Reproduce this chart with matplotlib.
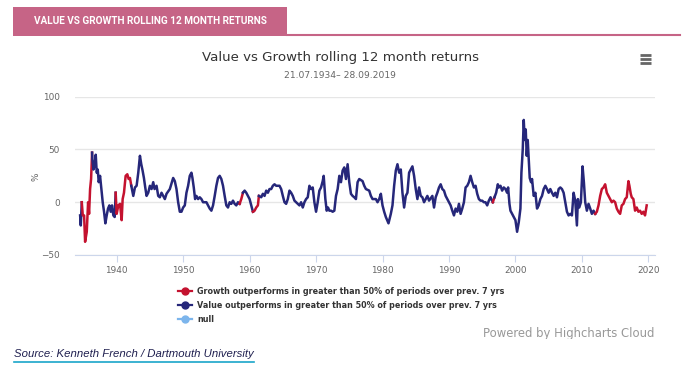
import matplotlib
matplotlib.use("agg")
import matplotlib.pyplot as plt
from matplotlib.lines import Line2D
from matplotlib.patches import Rectangle

# rolling 12 month return of value minus growth (%)
years = [1934.5, 1934.6, 1934.75, 1934.9, 1935.1, 1935.25, 1935.5, 1935.7, 1935.85, 1936.0,
         1936.15, 1936.3, 1936.35, 1936.5, 1936.65, 1936.85, 1937.0, 1937.15, 1937.3, 1937.5,
         1937.7, 1937.9, 1938.1, 1938.3, 1938.5, 1938.7, 1938.9, 1939.1, 1939.3, 1939.5,
         1939.7, 1939.85, 1940.0, 1940.25, 1940.5, 1940.75, 1940.9, 1941.1, 1941.35, 1941.6,
         1941.8, 1942.0, 1942.2, 1942.5, 1942.75, 1943.0, 1943.25, 1943.5, 1943.7, 1943.9,
         1944.1, 1944.3, 1944.5, 1944.75, 1945.0, 1945.25, 1945.5, 1945.7, 1946.0, 1946.25,
         1946.5, 1946.75, 1947.0, 1947.25, 1947.5, 1948.0, 1948.5, 1948.75, 1949.0, 1949.25,
         1949.5, 1949.75, 1950.0, 1950.25, 1950.5, 1950.75, 1951.0, 1951.25, 1951.4, 1951.6,
         1951.8, 1952.0, 1952.25, 1952.5, 1952.75, 1953.0, 1953.5, 1954.0, 1954.25, 1954.5,
         1954.75, 1955.0, 1955.25, 1955.5, 1955.75, 1956.0, 1956.25, 1956.5, 1956.75, 1957.0,
         1957.25, 1957.5, 1957.75, 1958.0, 1958.25, 1958.5, 1958.75, 1959.0, 1959.25, 1959.5,
         1959.75, 1960.0, 1960.25, 1960.5, 1960.75, 1961.0, 1961.25, 1961.4, 1961.75, 1962.0,
         1962.25, 1962.5, 1962.75, 1963.0, 1963.25, 1963.5, 1963.75, 1964.0, 1964.25, 1964.5,
         1964.75, 1965.0, 1965.25, 1965.5, 1965.75, 1966.0, 1966.25, 1966.5, 1966.75, 1967.0,
         1967.25, 1967.5, 1967.75, 1968.0, 1968.25, 1968.5, 1968.75, 1969.0, 1969.25, 1969.5,
         1969.75, 1970.0, 1970.25, 1970.5, 1970.75, 1971.0, 1971.15, 1971.4, 1971.6, 1971.8,
         1972.0, 1972.25, 1972.5, 1972.75, 1973.0, 1973.25, 1973.5, 1973.75, 1974.0, 1974.25,
         1974.5, 1974.75, 1975.0, 1975.25, 1975.5, 1975.75, 1976.0, 1976.25, 1976.5, 1977.0,
         1977.25, 1977.5, 1978.0, 1978.25, 1978.5, 1979.0, 1979.25, 1979.5, 1979.75, 1980.0,
         1980.25, 1980.5, 1980.9, 1981.25, 1981.5, 1981.75, 1982.0, 1982.25, 1982.5, 1982.75,
         1983.0, 1983.25, 1983.5, 1983.75, 1984.0, 1984.25, 1984.5, 1984.75, 1985.0, 1985.25,
         1985.5, 1985.75, 1986.0, 1986.25, 1986.5, 1986.75, 1987.0, 1987.5, 1987.75, 1988.0,
         1988.25, 1988.5, 1988.75, 1989.0, 1989.25, 1989.5, 1989.75, 1990.0, 1990.25, 1990.5,
         1990.75, 1991.0, 1991.25, 1991.5, 1991.75, 1992.0, 1992.25, 1992.5, 1992.75, 1993.0,
         1993.25, 1993.5, 1993.75, 1994.0, 1994.25, 1994.5, 1994.75, 1995.0, 1995.25, 1995.5,
         1995.75, 1996.0, 1996.25, 1996.6, 1996.85, 1997.1, 1997.35, 1997.5, 1997.75, 1998.0,
         1998.25, 1998.5, 1998.75, 1998.9, 1999.1, 1999.25, 1999.5, 1999.75, 2000.0, 2000.25,
         2000.5, 2000.75, 2000.9, 2001.1, 2001.25, 2001.4, 2001.55, 2001.7, 2001.85, 2002.0,
         2002.15, 2002.35, 2002.5, 2002.75, 2003.0, 2003.25, 2003.5, 2003.75, 2004.0, 2004.25,
         2004.5, 2004.75, 2005.0, 2005.25, 2005.5, 2005.75, 2006.0, 2006.25, 2006.5, 2006.75,
         2007.0, 2007.25, 2007.5, 2007.75, 2008.0, 2008.25, 2008.5, 2008.75, 2009.0, 2009.25,
         2009.4, 2009.6, 2009.85, 2010.1, 2010.3, 2010.5, 2010.75, 2011.0, 2011.25, 2011.5,
         2011.75, 2012.0, 2012.25, 2012.5, 2012.75, 2013.0, 2013.25, 2013.5, 2013.75, 2014.0,
         2014.25, 2014.5, 2014.75, 2015.0, 2015.25, 2015.5, 2015.75, 2016.0, 2016.25, 2016.5,
         2016.75, 2017.0, 2017.15, 2017.35, 2017.5, 2017.75, 2018.0, 2018.25, 2018.5, 2018.75,
         2019.0, 2019.25, 2019.5, 2019.75]
returns = [-12.5, -22, 0, -12.5, -12.5, -37.5, -28, 0, -11, 12.5,
           22, 47, 40.6, 31, 34, 45, 28, 31, 19, 25,
           12.5, 0, -9, -20, -12.5, -6, -3, -9, -3, -12.5,
           -14, 9, -11, -3, -1.5, -17, 3, 9, 25, 26.5,
           22, 23, 15.6, 6, 14, 15.6, 28, 44, 36, 30,
           23, 14, 6, 9, 15.6, 12.5, 19, 12.5, 15.6, 6,
           4.7, 9, 6, 3, 8, 12.5, 23, 20, 12.5, 0,
           -9, -9, -5, -3, 9, 15.6, 25, 28, 23, 14,
           3, 6, 3, 4.7, 3, 0, 0, -6, -8, -3,
           6, 15.6, 23, 25, 22, 15.6, 6, -3, -5, 0,
           -1.5, 1.5, -1.5, -3, 0, -1.5, 3, 9, 11, 9,
           6, 3, -3, -9, -8, -5, -3, 6, 4.7, 8,
           6, 11, 9, 12.5, 12.5, 15.6, 17, 15.6, 15.6, 15.6,
           12.5, 6, 0, -1.5, 3, 11, 9, 6, 1.5, 0,
           -1.5, -3, 0, -5, 0, 3, 4.7, 15.6, 12.5, 14,
           0, -9, 0, 11, 14, 20, 25, 3, -8, -5,
           -8, -8, -9, -8, 6, 12.5, 25, 19, 30, 33,
           22, 36, 19, 8, 6, 4.7, 3, 19, 22, 20,
           15.6, 12.5, 11, 6, 3, 3, 0, 3, 8, -3,
           -9, -14, -20, -11, -3, 15.6, 30, 36, 28, 31,
           9, -5, 6, 9, 28, 31, 34, 25, 12.5, 3,
           14, 6, 4.7, 0, 3, 6, 1.5, 6, -5, 4.7,
           9, 14, 17, 12.5, 11, 6, 3, 0, -3, -8,
           -12.5, -6, -9, -1.5, -11, -6, 0, 14, 15.6, 19,
           25, 19, 14, 15.6, 8, 3, 1.5, 1.5, 0, 0,
           -3, 1.5, 4.7, 0, 4.7, 9, 17, 14, 15.6, 11,
           14, 12.5, 9, 14, -1.5, -8, -11, -14, -17, -28,
           -19, -6, 28, 50, 78, 59, 69, 44, 59, 41,
           23, 19, 22, 6, 9, -6, -3, 3, 6, 12.5,
           15.6, 12.5, 9, 12.5, 9, 6, 9, 4.7, 12.5, 14,
           12.5, 9, 0, -9, -12.5, -11, -12.5, 9, 1.5, -22,
           3, -5, 0, 34, 19, 0, -8, -1.5, -6, -11,
           -8, -11, -9, -3, 6, 12.5, 14, 17, 9, 6,
           3, 0, 1.5, 0, -6, -9, -11, -3, -1.5, 3,
           4.7, 20, 15.6, 8, 4.7, 3, -8, -5, -9, -8,
           -11, -9, -12.5, -3]

# spans where growth beat value in >50% of periods over previous 7 yrs
growth_periods = [(1934.7, 1936.3), (1939.9, 1942.2), (1958.6, 1959.0),
                  (1960.6, 1961.4), (1996.5, 1996.9), (2012.0, 2019.8)]

growth_label = "Growth outperforms in greater than 50% of periods over prev. 7 yrs"
value_label = "Value outperforms in greater than 50% of periods over prev. 7 yrs"
null_label = "null"

RED = "#c4122f"
NAVY = "#26277a"
NULLBLUE = "#7cb5ec"

def in_growth(x):
    return any(a <= x <= b for a, b in growth_periods)

fig = plt.figure(figsize=(6.93, 3.78), dpi=100)
W, H = 693, 378

def fx(px):
    return px / W

def fy(py):
    return 1 - py / H

# header banner
fig.add_artist(Rectangle((fx(13), fy(36)), fx(287) - fx(13), fy(7) - fy(36),
                         transform=fig.transFigure, color="#c66486", lw=0))
fig.add_artist(Line2D([fx(287), fx(680)], [fy(35), fy(35)], transform=fig.transFigure,
                      color="#c66486", lw=1.5))
fig.text(fx(150), fy(21.5), "VALUE VS GROWTH ROLLING 12 MONTH RETURNS", color="white",
         fontsize=7.2, fontweight="bold", family=["Roboto", "DejaVu Sans"],
         ha="center", va="center")

# titles
fig.text(fx(340), fy(57), "Value vs Growth rolling 12 month returns", color="#333333",
         fontsize=9.6, ha="center", va="center")
fig.text(fx(340), fy(75), "21.07.1934\u2013 28.09.2019", color="#666666",
         fontsize=6.6, ha="center", va="center")

# menu icon
for yy in (55, 59, 63):
    fig.add_artist(Line2D([fx(640), fx(651)], [fy(yy), fy(yy)], transform=fig.transFigure,
                          color="#666666", lw=2, solid_capstyle="butt"))

ax = fig.add_axes([fx(75), fy(255), fx(655) - fx(75), fy(96.7) - fy(255)])

# split the series into colour runs
runs = []
cur_col = None
for i in range(len(years) - 1):
    mid = (years[i] + years[i + 1]) / 2
    col = RED if in_growth(mid) else NAVY
    if col != cur_col:
        runs.append((col, [years[i]], [returns[i]]))
        cur_col = col
    runs[-1][1].append(years[i + 1])
    runs[-1][2].append(returns[i + 1])
for col, xs, ys in runs:
    ax.plot(xs, ys, color=col, lw=1.8, solid_joinstyle="round", zorder=3)

ax.set_xlim(1933.73, 2021.0)
ax.set_ylim(-50, 100)
ax.set_yticks([-50, 0, 50, 100])
ax.set_xticks(range(1940, 2021, 10))
ax.grid(axis="y", color="#e6e6e6", lw=1)
ax.set_axisbelow(True)
for s in ("top", "right", "left"):
    ax.spines[s].set_visible(False)
ax.spines["bottom"].set_color("#ccd6eb")
ax.tick_params(axis="y", length=0, labelsize=6.4, labelcolor="#666666", pad=11)
ax.tick_params(axis="x", length=5, color="#ccd6eb", labelsize=6.4, labelcolor="#666666", pad=3)
fig.text(fx(36), fy(177), "%", rotation=90, fontsize=6.4, color="#666666",
         ha="center", va="center")

# legend
legend_items = [(growth_label, RED), (value_label, NAVY), (null_label, NULLBLUE)]
for k, (lab, col) in enumerate(legend_items):
    yy = 291 + 14 * k
    fig.add_artist(Line2D([fx(178), fx(192)], [fy(yy), fy(yy)], transform=fig.transFigure,
                          color=col, lw=1.6))
    fig.add_artist(Line2D([fx(185)], [fy(yy)], transform=fig.transFigure,
                          color=col, marker="o", markersize=5, lw=0))
    fig.text(fx(197), fy(yy), lab, color="#333333", fontsize=5.8, fontweight="bold",
             ha="left", va="center")

# credits, clipped at the bottom like the reference
fig.text(fx(654), fy(334), "Powered by Highcharts Cloud", color="#999999", fontsize=8.4,
         ha="right", va="center")
fig.add_artist(Rectangle((fx(470), fy(345)), fx(680) - fx(470), fy(338.5) - fy(345),
                         transform=fig.transFigure, color="white", lw=0, zorder=5))

# source line
fig.text(fx(14), fy(354), "Source: Kenneth French / Dartmouth University", color="#1f1f4f",
         fontsize=8.2, style="italic", family=["Liberation Sans", "DejaVu Sans"],
         ha="left", va="center")
fig.add_artist(Line2D([fx(14), fx(254)], [fy(362), fy(362)], transform=fig.transFigure,
                      color="#1aa6c9", lw=1.2))

fig.savefig("out.png", dpi=100)
